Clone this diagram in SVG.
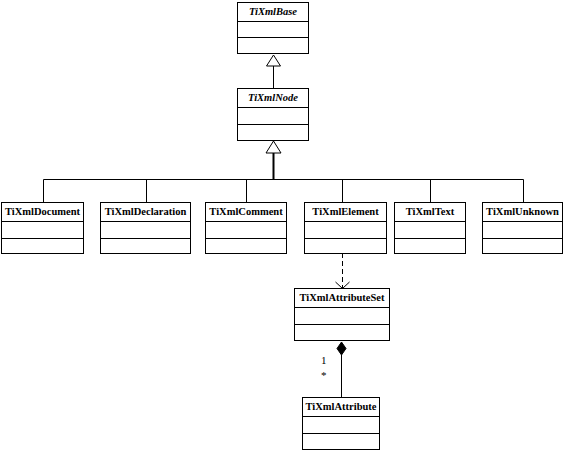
<svg xmlns="http://www.w3.org/2000/svg" width="564" height="452" viewBox="0 0 564 452">
<defs>
<style>
.box{fill:#fff;stroke:#000;stroke-width:1}
.div{stroke:#000;stroke-width:1}
.t{font-family:"Liberation Serif","Times New Roman",serif;font-size:10.5px;font-weight:bold;text-anchor:middle;fill:#000}
.it{font-style:italic}
.ln{fill:none;stroke:#000;stroke-width:1}
.lbl{font-family:"Liberation Serif","Times New Roman",serif;font-size:11px;fill:#000}
</style>
</defs>
<rect width="564" height="452" fill="#fff"/>
<g id="connectors">
<line class="ln" x1="273.5" y1="66" x2="273.5" y2="88"/>
<polygon points="273.5,55 266.5,66 280.5,66" fill="#fff" stroke="#000"/>
<line x1="273.5" y1="153" x2="273.5" y2="179.5" stroke="#000" stroke-width="2"/>
<polygon points="273.5,141 266,153 281,153" fill="#fff" stroke="#000"/>
<polyline class="ln" points="43.5,202 43.5,179.5 523.5,179.5 523.5,202"/>
<line class="ln" x1="146.5" y1="179.5" x2="146.5" y2="202"/>
<line class="ln" x1="246.5" y1="179.5" x2="246.5" y2="202"/>
<line class="ln" x1="342.5" y1="179.5" x2="342.5" y2="202"/>
<line class="ln" x1="430.5" y1="179.5" x2="430.5" y2="202"/>
<line class="ln" x1="342.5" y1="253" x2="342.5" y2="288" stroke-dasharray="5,3"/>
<polyline class="ln" points="335.5,282 342.5,288.5 349.5,282"/>
<line class="ln" x1="341.5" y1="355" x2="341.5" y2="397"/>
<polygon points="341.5,342 346,348.5 341.5,355 337,348.5" fill="#000" stroke="#000"/>
<text class="lbl" x="321" y="364">1</text>
<text class="lbl" x="321" y="379">*</text>
</g>
<g id="TiXmlBase">
<rect class="box" x="237.5" y="2.5" width="71" height="51"/>
<line class="div" x1="237.5" y1="21.5" x2="308.5" y2="21.5"/>
<line class="div" x1="237.5" y1="37.5" x2="308.5" y2="37.5"/>
<text class="t it" x="273" y="15">TiXmlBase</text>
</g>
<g id="TiXmlNode">
<rect class="box" x="237.5" y="88.5" width="71" height="52"/>
<line class="div" x1="237.5" y1="107.5" x2="308.5" y2="107.5"/>
<line class="div" x1="237.5" y1="124.5" x2="308.5" y2="124.5"/>
<text class="t it" x="273" y="101">TiXmlNode</text>
</g>
<g id="TiXmlDocument">
<rect class="box" x="1.5" y="202.5" width="82" height="51"/>
<line class="div" x1="1.5" y1="221.5" x2="83.5" y2="221.5"/>
<line class="div" x1="1.5" y1="238.5" x2="83.5" y2="238.5"/>
<text class="t" x="42.5" y="215">TiXmlDocument</text>
</g>
<g id="TiXmlDeclaration">
<rect class="box" x="100.5" y="202.5" width="90" height="51"/>
<line class="div" x1="100.5" y1="221.5" x2="190.5" y2="221.5"/>
<line class="div" x1="100.5" y1="238.5" x2="190.5" y2="238.5"/>
<text class="t" x="145.5" y="215">TiXmlDeclaration</text>
</g>
<g id="TiXmlComment">
<rect class="box" x="205.5" y="202.5" width="81" height="51"/>
<line class="div" x1="205.5" y1="221.5" x2="286.5" y2="221.5"/>
<line class="div" x1="205.5" y1="238.5" x2="286.5" y2="238.5"/>
<text class="t" x="246" y="215">TiXmlComment</text>
</g>
<g id="TiXmlElement">
<rect class="box" x="304.5" y="202.5" width="82" height="51"/>
<line class="div" x1="304.5" y1="221.5" x2="386.5" y2="221.5"/>
<line class="div" x1="304.5" y1="238.5" x2="386.5" y2="238.5"/>
<text class="t" x="345.5" y="215">TiXmlElement</text>
</g>
<g id="TiXmlText">
<rect class="box" x="394.5" y="202.5" width="71" height="51"/>
<line class="div" x1="394.5" y1="221.5" x2="465.5" y2="221.5"/>
<line class="div" x1="394.5" y1="238.5" x2="465.5" y2="238.5"/>
<text class="t" x="430" y="215">TiXmlText</text>
</g>
<g id="TiXmlUnknown">
<rect class="box" x="482.5" y="202.5" width="80" height="51"/>
<line class="div" x1="482.5" y1="221.5" x2="562.5" y2="221.5"/>
<line class="div" x1="482.5" y1="238.5" x2="562.5" y2="238.5"/>
<text class="t" x="522.5" y="215">TiXmlUnknown</text>
</g>
<g id="TiXmlAttributeSet">
<rect class="box" x="294.5" y="288.5" width="95" height="52"/>
<line class="div" x1="294.5" y1="307.5" x2="389.5" y2="307.5"/>
<line class="div" x1="294.5" y1="324.5" x2="389.5" y2="324.5"/>
<text class="t" x="342" y="301">TiXmlAttributeSet</text>
</g>
<g id="TiXmlAttribute">
<rect class="box" x="302.5" y="397.5" width="77" height="52"/>
<line class="div" x1="302.5" y1="416.5" x2="379.5" y2="416.5"/>
<line class="div" x1="302.5" y1="433.5" x2="379.5" y2="433.5"/>
<text class="t" x="341" y="410">TiXmlAttribute</text>
</g>
</svg>
